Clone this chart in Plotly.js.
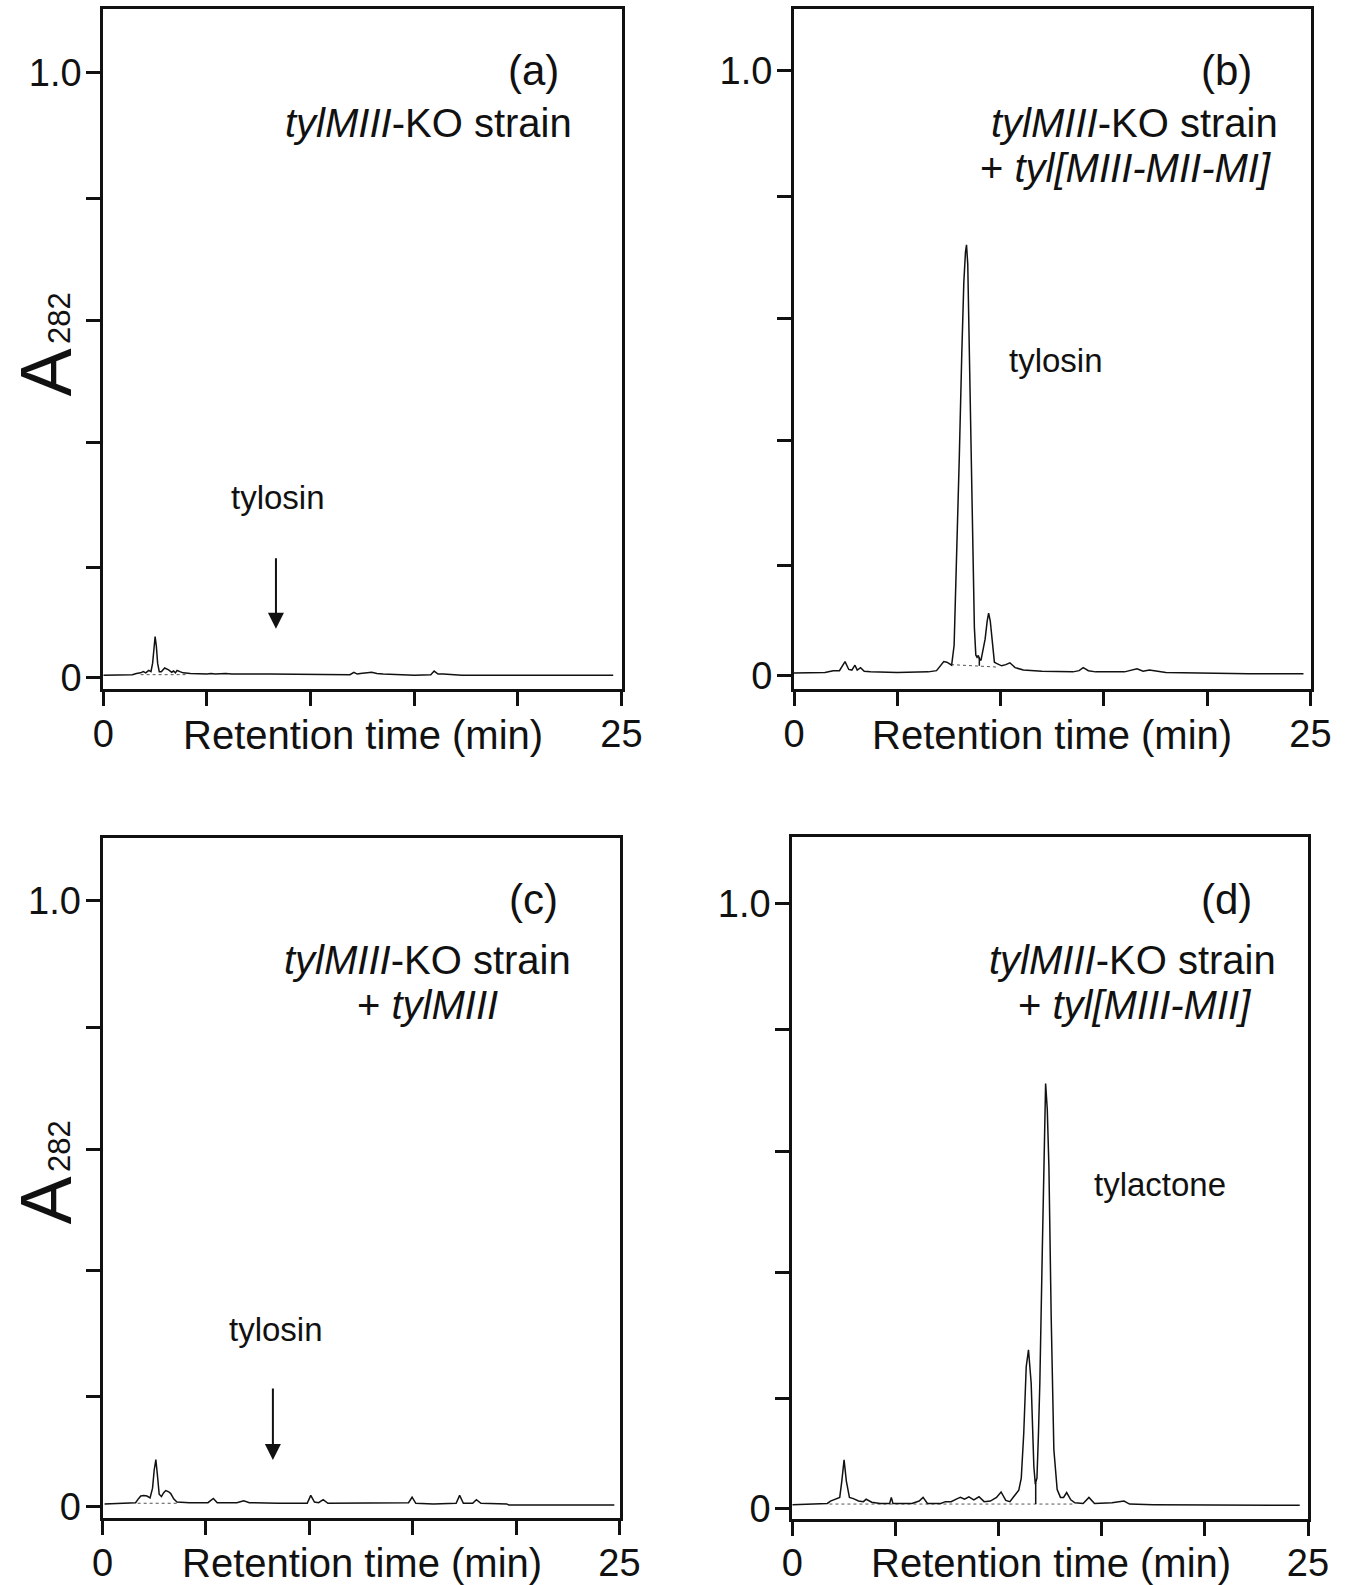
<!DOCTYPE html>
<html>
<head>
<meta charset="utf-8">
<script src="https://cdn.plot.ly/plotly-3.0.1.min.js"></script>
<style>
  html, body { margin: 0; padding: 0; background: #fff; }
  #chart { width: 1349px; height: 1585px; }
</style>
</head>
<body>
<div id="chart"></div>
<script>
// ---------------- data (retention time in min, absorbance A282) ----------------
const timeA = [0, 1.4, 1.6, 1.8, 1.93, 2.05, 2.19, 2.3, 2.38, 2.44, 2.5, 2.56, 2.62, 2.7, 2.8, 2.96, 3.15, 3.3, 3.39, 3.48, 3.56, 3.7, 3.85, 4.2, 5.0, 5.2, 5.4, 5.9, 6.2, 8, 10, 11.9, 12.09, 12.25, 12.4, 12.7, 12.95, 13.2, 13.5, 15.0, 15.4, 15.8, 15.96, 16.15, 16.4, 17.1, 17.3, 24.6];
const absA  = [0.004, 0.005, 0.007, 0.008, 0.010, 0.008, 0.012, 0.010, 0.024, 0.052, 0.068, 0.052, 0.024, 0.010, 0.010, 0.016, 0.013, 0.009, 0.011, 0.008, 0.012, 0.010, 0.008, 0.007, 0.006, 0.007, 0.006, 0.007, 0.006, 0.006, 0.005, 0.005, 0.009, 0.006, 0.007, 0.008, 0.009, 0.007, 0.006, 0.004, 0.005, 0.005, 0.011, 0.006, 0.006, 0.005, 0.004, 0.004];

const timeB = [0, 1.5, 1.9, 2.2, 2.47, 2.65, 2.8, 2.95, 3.06, 3.22, 3.4, 3.7, 5, 6.5, 6.9, 7.1, 7.25, 7.4, 7.5, 7.63, 7.75, 7.88, 8.0, 8.12, 8.22, 8.3, 8.35, 8.41, 8.48, 8.56, 8.65, 8.73, 8.8, 8.86, 8.92, 8.97, 9.05, 9.15, 9.25, 9.35, 9.42, 9.5, 9.6, 9.7, 9.8, 10.05, 10.25, 10.45, 10.7, 11.1, 12, 13.5, 13.8, 14.0, 14.25, 14.6, 16.0, 16.4, 16.6, 16.9, 17.2, 18.0, 20, 22, 24.66];
const absB  = [0.004, 0.005, 0.008, 0.008, 0.023, 0.010, 0.009, 0.017, 0.009, 0.013, 0.007, 0.006, 0.005, 0.006, 0.008, 0.016, 0.023, 0.022, 0.020, 0.017, 0.050, 0.200, 0.360, 0.530, 0.650, 0.700, 0.712, 0.680, 0.550, 0.380, 0.200, 0.080, 0.034, 0.030, 0.033, 0.028, 0.025, 0.040, 0.060, 0.090, 0.103, 0.090, 0.050, 0.022, 0.020, 0.016, 0.018, 0.021, 0.013, 0.009, 0.007, 0.006, 0.008, 0.013, 0.008, 0.006, 0.006, 0.009, 0.011, 0.007, 0.009, 0.005, 0.004, 0.003, 0.003];

const timeC = [0.1, 1.6, 1.75, 1.85, 2.0, 2.15, 2.3, 2.42, 2.5, 2.58, 2.66, 2.74, 2.85, 2.95, 3.06, 3.2, 3.3, 3.45, 3.6, 4.2, 5.1, 5.36, 5.55, 6.5, 6.83, 7.1, 8.5, 9.9, 10.07, 10.25, 10.45, 10.67, 10.9, 12, 13.5, 14.8, 14.97, 15.15, 16.0, 17.1, 17.27, 17.45, 17.9, 18.08, 18.3, 19.55, 19.65, 24.75];
const absC  = [0.004, 0.006, 0.013, 0.017, 0.018, 0.017, 0.014, 0.030, 0.060, 0.077, 0.050, 0.020, 0.016, 0.022, 0.026, 0.024, 0.021, 0.012, 0.007, 0.006, 0.006, 0.013, 0.006, 0.006, 0.009, 0.006, 0.005, 0.005, 0.018, 0.007, 0.006, 0.011, 0.005, 0.005, 0.006, 0.006, 0.015, 0.005, 0.004, 0.005, 0.018, 0.005, 0.005, 0.011, 0.005, 0.004, 0.002, 0.002];

const timeD = [0, 1.7, 1.85, 2.08, 2.3, 2.4, 2.51, 2.62, 2.77, 2.96, 3.21, 3.45, 3.58, 3.85, 4.26, 4.72, 4.8, 4.88, 5.8, 6.15, 6.34, 6.55, 7.2, 7.42, 7.7, 8.0, 8.15, 8.35, 8.56, 8.8, 9.05, 9.3, 9.6, 9.9, 10.12, 10.35, 10.55, 10.73, 10.98, 11.1, 11.22, 11.34, 11.45, 11.58, 11.71, 11.78, 11.86, 11.93, 12.0, 12.12, 12.2, 12.28, 12.36, 12.44, 12.55, 12.68, 12.84, 13.0, 13.15, 13.3, 13.5, 13.7, 14.1, 14.38, 14.65, 15.0, 15.5, 16.08, 16.35, 17.5, 24.6];
const absD  = [0.006, 0.008, 0.012, 0.015, 0.018, 0.045, 0.080, 0.045, 0.018, 0.016, 0.012, 0.011, 0.015, 0.010, 0.008, 0.008, 0.018, 0.008, 0.008, 0.012, 0.018, 0.008, 0.008, 0.011, 0.011, 0.016, 0.018, 0.015, 0.019, 0.014, 0.019, 0.011, 0.012, 0.018, 0.027, 0.013, 0.011, 0.019, 0.030, 0.050, 0.124, 0.234, 0.262, 0.207, 0.069, 0.040, 0.050, 0.120, 0.207, 0.427, 0.592, 0.702, 0.660, 0.565, 0.317, 0.097, 0.031, 0.018, 0.018, 0.026, 0.014, 0.009, 0.008, 0.018, 0.008, 0.008, 0.009, 0.012, 0.007, 0.006, 0.005];

// integration baselines (dotted) and drop lines
const baseTimeA = [1.8, 4.0];   const baseAbsA = [0.005, 0.005];
const baseTimeB = [7.6, 9.8];   const baseAbsB = [0.018, 0.014];
const dropTimeB = [8.97, 8.97]; const dropAbsB = [0.016, 0.030];
const baseTimeC = [1.7, 3.7];   const baseAbsC = [0.005, 0.005];
const baseTimeD = [1.8, 13.6];  const baseAbsD = [0.007, 0.007];
const dropTimeD = [11.8, 11.8]; const dropAbsD = [0.007, 0.042];

const xTickVals = [0, 5, 10, 15, 20, 25];
const xTickText = ['0', '', '', '', '', '25'];
const yTickVals = [0, 0.182, 0.389, 0.590, 0.791, 1.0];
const yTickText = ['0', '', '', '', '', '1.0'];

const panelLetters = ['(a)', '(b)', '(c)', '(d)'];
const strainLine1 = '<i>tylMIII</i>-KO strain';
const strainLine2 = ['', '+ <i>tyl[MIII-MII-MI]</i>', '+ <i>tylMIII</i>', '+ <i>tyl[MIII-MII]</i>'];
const xTitle = 'Retention time (min)';

// ---------------- helpers ----------------
const W = 1349, H = 1585;
const px = v => v / W;
const py = v => 1 - v / H;
const FONT = 'Liberation Sans, Arial, Helvetica, sans-serif';
const ink = '#111';

function lineTrace(x, y, xa, ya, extra) {
  return Object.assign({
    x: x, y: y, xaxis: xa, yaxis: ya, type: 'scatter', mode: 'lines',
    line: {color: ink, width: 1.5}, hoverinfo: 'skip', showlegend: false
  }, extra || {});
}
const dotted = {line: {color: '#555', width: 1, dash: 'dot'}};

const traces = [
  lineTrace(baseTimeA, baseAbsA, 'x', 'y', dotted),
  lineTrace(timeA, absA, 'x', 'y'),
  lineTrace(baseTimeB, baseAbsB, 'x2', 'y2', dotted),
  lineTrace(dropTimeB, dropAbsB, 'x2', 'y2'),
  lineTrace(timeB, absB, 'x2', 'y2'),
  lineTrace(baseTimeC, baseAbsC, 'x3', 'y3', dotted),
  lineTrace(timeC, absC, 'x3', 'y3'),
  lineTrace(baseTimeD, baseAbsD, 'x4', 'y4', dotted),
  lineTrace(dropTimeD, dropAbsD, 'x4', 'y4'),
  lineTrace(timeD, absD, 'x4', 'y4')
];

function xAxis(domain, anchor) {
  return {
    domain: domain, anchor: anchor, range: [0, 25],
    showline: true, linewidth: 3, linecolor: ink, mirror: true,
    showgrid: false, zeroline: false,
    ticks: 'outside', ticklen: 14, tickwidth: 3, tickcolor: ink,
    tickvals: xTickVals, ticktext: xTickText,
    tickfont: {family: FONT, size: 38, color: ink},
    ticklabelstandoff: -5, fixedrange: true
  };
}
function yAxis(domain, anchor, range) {
  return {
    domain: domain, anchor: anchor, range: range,
    showline: true, linewidth: 3, linecolor: ink, mirror: true,
    showgrid: false, zeroline: false,
    ticks: 'outside', ticklen: 14, tickwidth: 3, tickcolor: ink,
    tickvals: yTickVals, ticktext: yTickText,
    tickfont: {family: FONT, size: 38, color: ink},
    ticklabelstandoff: -3, fixedrange: true
  };
}

// panel geometry in page pixels
const P = [
  {l: 103.3, r: 621.5, top: 9.3,  bot: 689.3, zero: 677.7, one: 72.3},
  {l: 794.0, r: 1310.5, top: 9.0, bot: 689.0, zero: 675.5, one: 70.5},
  {l: 102.5, r: 619.5, top: 837.9, bot: 1517.9, zero: 1506.3, one: 900.9},
  {l: 792.3, r: 1308.0, top: 837.0, bot: 1518.5, zero: 1508.3, one: 903.3}
];
function yRange(p) {
  const s = p.zero - p.one;
  return [(p.zero - p.bot) / s, (p.zero - p.top) / s];
}

const layout = {
  width: W, height: H,
  margin: {l: 0, r: 0, t: 0, b: 0},
  paper_bgcolor: '#fff', plot_bgcolor: '#fff',
  font: {family: FONT, color: ink},
  showlegend: false,
  xaxis:  xAxis([px(P[0].l), px(P[0].r)], 'y'),
  yaxis:  yAxis([py(P[0].bot), py(P[0].top)], 'x', yRange(P[0])),
  xaxis2: xAxis([px(P[1].l), px(P[1].r)], 'y2'),
  yaxis2: yAxis([py(P[1].bot), py(P[1].top)], 'x2', yRange(P[1])),
  xaxis3: xAxis([px(P[2].l), px(P[2].r)], 'y3'),
  yaxis3: yAxis([py(P[2].bot), py(P[2].top)], 'x3', yRange(P[2])),
  xaxis4: xAxis([px(P[3].l), px(P[3].r)], 'y4'),
  yaxis4: yAxis([py(P[3].bot), py(P[3].top)], 'x4', yRange(P[3])),
  annotations: []
};

function ann(text, x, y, size, xanchor, extra) {
  return Object.assign({
    text: text, xref: 'paper', yref: 'paper', x: px(x), y: py(y),
    xanchor: xanchor || 'center', yanchor: 'middle', showarrow: false,
    font: {family: FONT, size: size, color: ink}
  }, extra || {});
}

const A = layout.annotations;
// panel letters
A.push(ann(panelLetters[0], 533.5, 70.7, 42));
A.push(ann(panelLetters[1], 1226, 70.7, 42));
A.push(ann(panelLetters[2], 533.5, 899, 42));
A.push(ann(panelLetters[3], 1226, 899, 42));
// strain labels
A.push(ann(strainLine1, 574, 123.3, 40, 'right'));
A.push(ann(strainLine1, 1280, 123, 40, 'right'));
A.push(ann(strainLine2[1], 1273, 167.7, 40, 'right'));
A.push(ann(strainLine1, 573, 960, 40, 'right'));
A.push(ann(strainLine2[2], 500, 1005.5, 40, 'right'));
A.push(ann(strainLine1, 1278, 960, 40, 'right'));
A.push(ann(strainLine2[3], 1253, 1005.5, 40, 'right'));
// compound labels
A.push(ann('tylosin', 278, 497, 33));
A.push(ann('tylosin', 1056, 361, 33));
A.push(ann('tylosin', 276, 1329, 33));
A.push(ann('tylactone', 1160, 1184, 33));
// x axis titles
A.push(ann(xTitle, 363, 734.6, 40));
A.push(ann(xTitle, 1052, 734.6, 40));
A.push(ann(xTitle, 362, 1563, 40));
A.push(ann(xTitle, 1051, 1563, 40));
// y axis titles A282
[373, 1201].forEach(yc => {
  A.push(ann('A', 45.5, yc, 72, 'center', {textangle: -90}));
  A.push(ann('282', 59, yc - 55, 31, 'center', {textangle: -90}));
});
// arrows pointing to where tylosin would elute
A.push({x: 8.33, y: 0.081, xref: 'x', yref: 'y', text: '', showarrow: true,
        ax: 0, ay: -72, arrowhead: 2, arrowsize: 1.6, arrowwidth: 2, arrowcolor: ink});
A.push({x: 8.24, y: 0.0765, xref: 'x3', yref: 'y3', text: '', showarrow: true,
        ax: 0, ay: -73, arrowhead: 2, arrowsize: 1.6, arrowwidth: 2, arrowcolor: ink});

Plotly.newPlot('chart', traces, layout, {staticPlot: true, displayModeBar: false});
</script>
</body>
</html>
